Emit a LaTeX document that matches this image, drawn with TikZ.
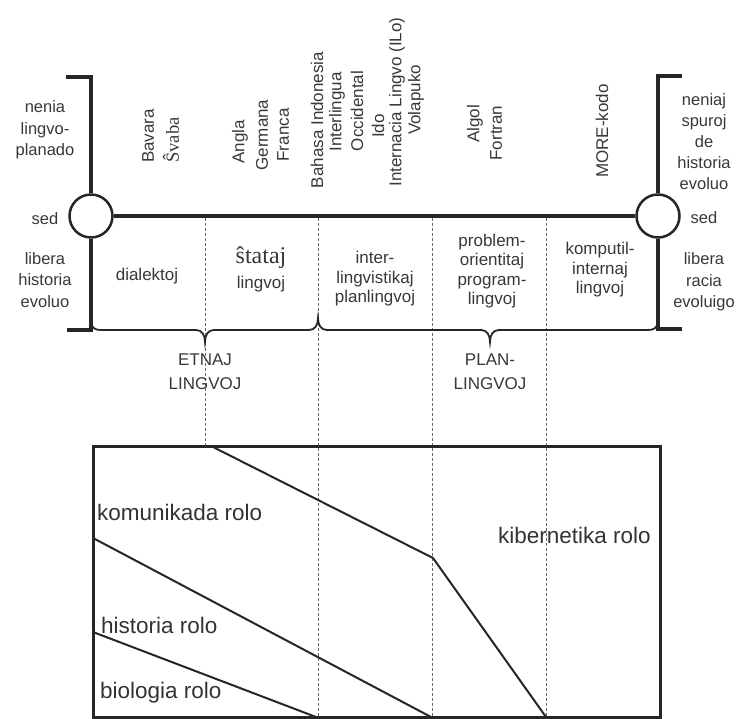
\documentclass[tikz,border=0pt]{standalone}
\usepackage{fontspec}
\setmainfont{Liberation Sans}
\newfontfamily\serifont{Liberation Serif}
\begin{document}
\begin{tikzpicture}[x=1pt,y=-1pt,
  txt/.style={text=black!78, inner sep=0pt, align=center, font=\fontsize{17}{19.5}\selectfont},
  vtxt/.style={txt, rotate=90},
  vser/.style={vtxt, font=\serifont\fontsize{18.5}{20}\selectfont},
  side/.style={txt, font=\fontsize{16.5}{21.5}\selectfont},
  rolo/.style={text=black!80, inner sep=0pt, anchor=base west, font=\fontsize{22.5}{26}\selectfont},
  thickline/.style={line width=3.5pt, draw=black!85},
  ring/.style={circle, draw=black!85, line width=2.5pt, minimum size=43pt, inner sep=0pt},
  gridline/.style={dash pattern=on 3pt off 2pt, line width=0.8pt, draw=black!60},
  bracepath/.style={line width=1.8pt, draw=black!85},
  role/.style={line width=2pt, draw=black!85},
]
\useasboundingbox (0,0) rectangle (737,719);

% circles and main line
\node[ring] (lc) at (91,216) {};
\node[ring] (rc) at (658,216) {};
\draw[thickline] (lc.east) -- (rc.west);

% brackets
\coordinate (ltl) at (66,77);  \coordinate (ltt) at (91,77);
\coordinate (lbl) at (67,330); \coordinate (lbb) at (91,330);
\coordinate (rtr) at (682,76); \coordinate (rtt) at (658,76);
\coordinate (rbr) at (682,329); \coordinate (rbb) at (658,329);
\draw[thickline] (ltl) -- (ltt) -- (lc.north);
\draw[thickline] (lc.south) -- (lbb) -- (lbl);
\draw[thickline] (rtr) -- (rtt) -- (rc.north);
\draw[thickline] (rc.south) -- (rbb) -- (rbr);

% dotted column lines
\coordinate (g1t) at (205,218); \coordinate (g1b) at (205,447);
\coordinate (g2t) at (318,218); \coordinate (g2b) at (318,717);
\coordinate (g3t) at (432,218); \coordinate (g3b) at (432,717);
\coordinate (g4t) at (546,218); \coordinate (g4b) at (546,717);
\draw[gridline] (g1t) -- (g1b);
\draw[gridline] (g2t) -- (g2b);
\draw[gridline] (g3t) -- (g3b);
\draw[gridline] (g4t) -- (g4b);

% braces
\draw[bracepath] (91,323) .. controls (92,328) and (95,330) .. (101,330)
  -- (196,330) .. controls (202,330) and (205,335) .. (205,342)
  .. controls (205,335) and (208,330) .. (214,330)
  -- (309,330) .. controls (315,330) and (318,325) .. (318,318)
  .. controls (318,325) and (321,330) .. (327,330)
  -- (481,330) .. controls (487,330) and (490,335) .. (490,342)
  .. controls (490,335) and (493,330) .. (499,330)
  -- (648,330) .. controls (654,330) and (657,328) .. (658,322);

% side labels
\node[side] (nenia) at (45,130) {nenia\\lingvo-\\planado};
\node[side] (sedl) at (45,219) {sed};
\node[side] (libl) at (45,280) {libera\\historia\\evoluo};
\node[side, font=\fontsize{16.5}{21}\selectfont] (neniaj) at (704,142) {neniaj\\spuroj\\de\\historia\\evoluo};
\node[side] (sedr) at (704,218) {sed};
\node[side] (libr) at (704,282) {libera\\racia\\evoluigo};

% rotated language names
\node[vtxt] (bavara) at (148,136) {Bavara};
\node[vser] (svaba) at (171,140) {Ŝvaba};
\node[vtxt] (angla) at (240,142) {Angla};
\node[vtxt] (germana) at (262,135) {Germana};
\node[vtxt] (franca) at (283,135) {Franca};
\node[vtxt] (bahasa) at (317,120) {Bahasa Indonesia};
\node[vtxt] (interlingua) at (337,112) {Interlingua};
\node[vtxt] (occidental) at (357,111) {Occidental};
\node[vtxt] (ido) at (378,126) {Ido};
\node[vtxt] (ilo) at (397,102) {Internacia Lingvo (ILo)};
\node[vtxt] (volapuko) at (416,100) {Volapuko};
\node[vtxt] (algol) at (475,124) {Algol};
\node[vtxt] (fortran) at (496,133) {Fortran};
\node[vtxt] (more) at (602,131) {MORE-kodo};

% column labels
\node[txt] (dialektoj) at (147,276) {dialektoj};
\node[txt, font=\serifont\fontsize{24}{26}\selectfont] (stataj) at (261,258) {ŝtataj};
\node[txt] (lingvoj1) at (261,284) {lingvoj};
\node[txt] (inter) at (375,279) {inter-\\lingvistikaj\\planlingvoj};
\node[txt] (problem) at (492,271) {problem-\\orientitaj\\program-\\lingvoj};
\node[txt] (komputil) at (600,270) {komputil-\\internaj\\lingvoj};

% brace labels
\node[txt, font=\fontsize{17}{24}\selectfont] (etnaj) at (205,372) {ETNAJ\\LINGVOJ};
\node[txt, font=\fontsize{17}{24}\selectfont] (plan) at (490,372) {PLAN-\\LINGVOJ};

% lower box
\coordinate (bnw) at (93,447); \coordinate (bse) at (660,717);
\draw[line width=3pt, draw=black!85] (bnw) rectangle (bse);
\coordinate (k1) at (213,447); \coordinate (k2) at (433,558); \coordinate (k3) at (546,717);
\coordinate (h1) at (93,538); \coordinate (h2) at (431,717);
\coordinate (b1) at (93,632); \coordinate (b2) at (316,717);
\draw[role] (k1) -- (k2) -- (k3);
\draw[role] (h1) -- (h2);
\draw[role] (b1) -- (b2);

\node[rolo] (komrolo) at (97,520) {komunikada rolo};
\node[rolo] (hisrolo) at (101,633) {historia rolo};
\node[rolo] (biorolo) at (100,698) {biologia rolo};
\node[rolo] (kibrolo) at (498,543) {kibernetika rolo};
\end{tikzpicture}
\end{document}
